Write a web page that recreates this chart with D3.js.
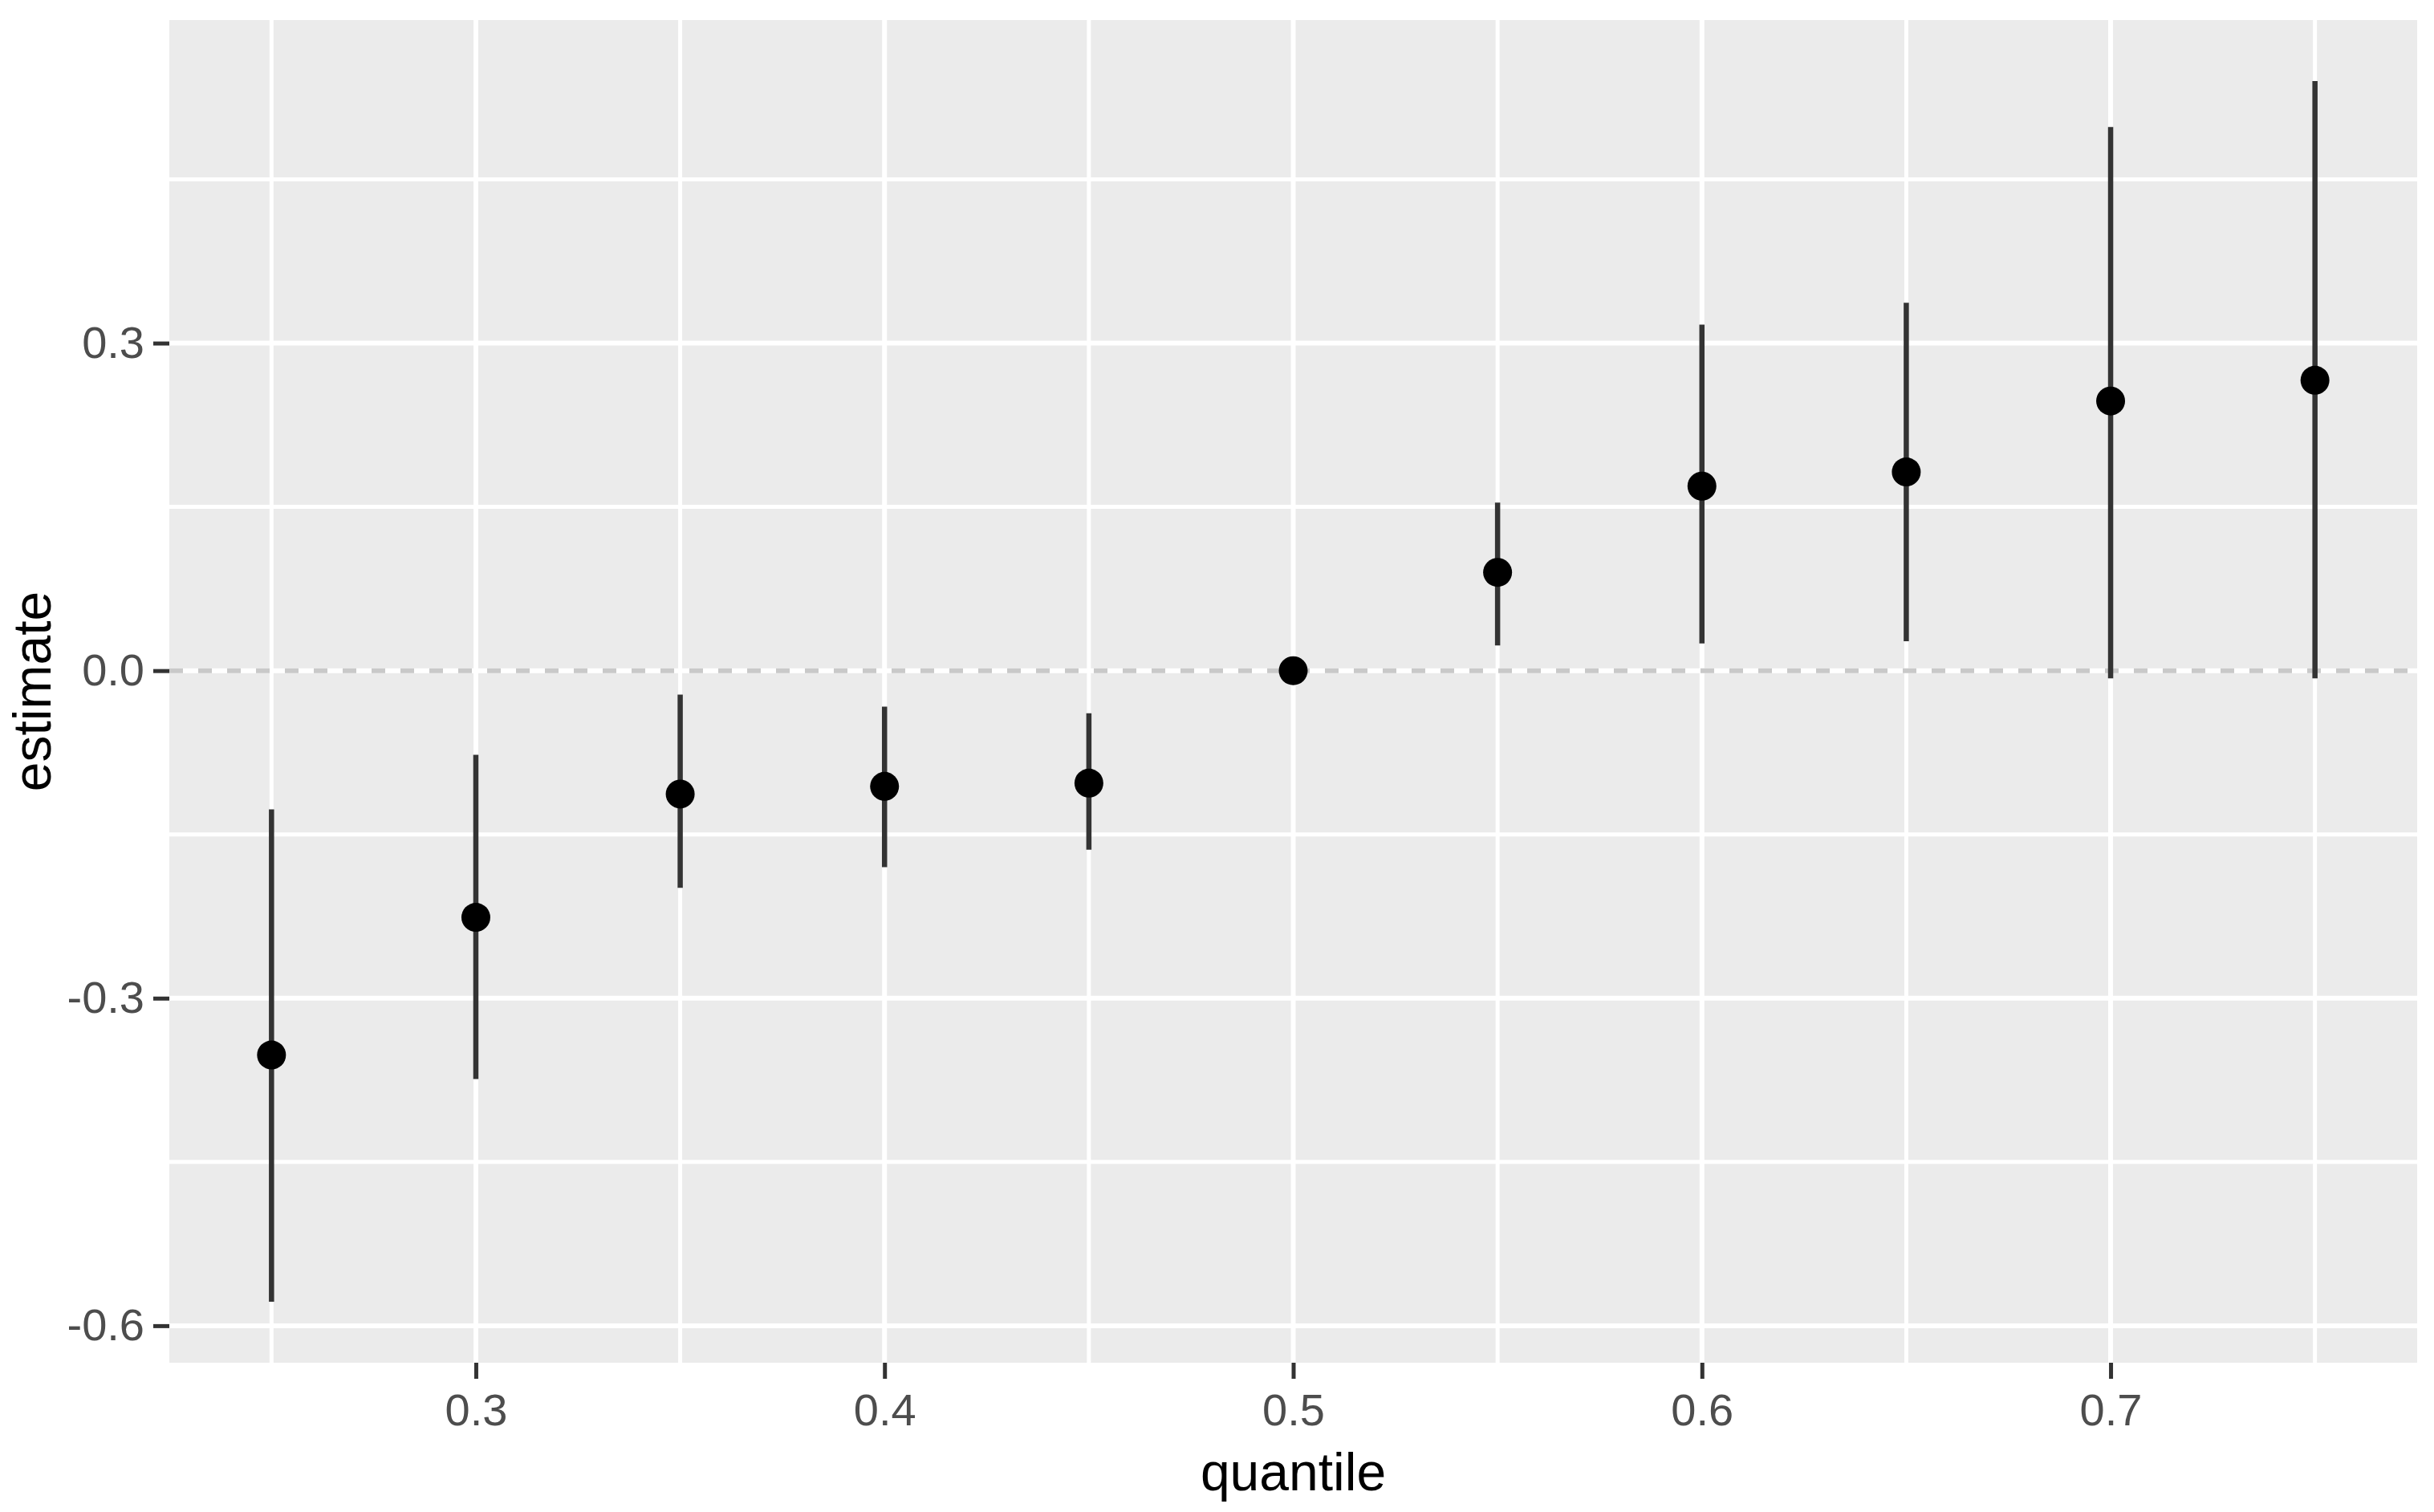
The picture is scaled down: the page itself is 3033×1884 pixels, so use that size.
<!DOCTYPE html>
<html>
<head>
<meta charset="utf-8">
<script src="https://cdn.jsdelivr.net/npm/d3@7"></script>
<style>
  html, body { margin: 0; padding: 0; background: #ffffff; }
  svg { display: block; }
</style>
</head>
<body>
<svg id="chart" width="3033" height="1884"></svg>
<script>
// ---- data ----
const quantiles = [0.25, 0.30, 0.35, 0.40, 0.45, 0.50, 0.55, 0.60, 0.65, 0.70, 0.75];
const estimates = [-0.352, -0.226, -0.113, -0.106, -0.103, 0.000, 0.090, 0.169, 0.182, 0.247, 0.266];
const lowerCI   = [-0.578, -0.374, -0.199, -0.180, -0.164, 0.000, 0.023, 0.025, 0.027, -0.007, -0.007];
const upperCI   = [-0.127, -0.077, -0.022, -0.033, -0.039, 0.000, 0.154, 0.317, 0.337, 0.498, 0.540];

const xMajorTicks = [0.3, 0.4, 0.5, 0.6, 0.7];
const xMinorTicks = [0.25, 0.35, 0.45, 0.55, 0.65, 0.75];
const yMajorTicks = [-0.6, -0.3, 0.0, 0.3];
const yMinorTicks = [-0.45, -0.15, 0.15, 0.45];

const xTitle = "quantile";
const yTitle = "estimate";

// ---- layout ----
const W = 3033, H = 1884;
const panel = { left: 211, right: 3012, top: 25, bottom: 1698 };
const FONT = "'Liberation Sans', Arial, Helvetica, sans-serif";

const rows = quantiles.map((q, i) => ({ q, est: estimates[i], lo: lowerCI[i], hi: upperCI[i] }));

// ggplot-like 5% expansion
function expand(lo, hi) { const p = (hi - lo) * 0.05; return [lo - p, hi + p]; }
const xDom = expand(d3.min(quantiles), d3.max(quantiles));
const yDom = expand(d3.min(lowerCI), d3.max(upperCI));

const x = d3.scaleLinear().domain(xDom).range([panel.left, panel.right]);
const y = d3.scaleLinear().domain(yDom).range([panel.bottom, panel.top]);

const svg = d3.select("#chart");
svg.append("rect").attr("x", 0).attr("y", 0).attr("width", W).attr("height", H).attr("fill", "#ffffff");

// panel background
svg.append("rect")
  .attr("x", panel.left).attr("y", panel.top)
  .attr("width", panel.right - panel.left).attr("height", panel.bottom - panel.top)
  .attr("fill", "#EBEBEB");

const grid = svg.append("g").attr("class", "grid");
// minor grid
grid.selectAll("line.ymin").data(yMinorTicks).join("line")
  .attr("x1", panel.left).attr("x2", panel.right)
  .attr("y1", d => y(d)).attr("y2", d => y(d))
  .attr("stroke", "#ffffff").attr("stroke-width", 5);
grid.selectAll("line.xmin").data(xMinorTicks).join("line")
  .attr("y1", panel.top).attr("y2", panel.bottom)
  .attr("x1", d => x(d)).attr("x2", d => x(d))
  .attr("stroke", "#ffffff").attr("stroke-width", 5);
// major grid
grid.selectAll("line.ymaj").data(yMajorTicks).join("line")
  .attr("x1", panel.left).attr("x2", panel.right)
  .attr("y1", d => y(d)).attr("y2", d => y(d))
  .attr("stroke", "#ffffff").attr("stroke-width", 6);
grid.selectAll("line.xmaj").data(xMajorTicks).join("line")
  .attr("y1", panel.top).attr("y2", panel.bottom)
  .attr("x1", d => x(d)).attr("x2", d => x(d))
  .attr("stroke", "#ffffff").attr("stroke-width", 6);

// dotted reference line at zero
svg.append("line")
  .attr("x1", panel.left).attr("x2", panel.right)
  .attr("y1", y(0)).attr("y2", y(0))
  .attr("stroke", "#C9C9C9").attr("stroke-width", 6)
  .attr("stroke-dasharray", "17 19");

// error bars
svg.append("g").selectAll("line").data(rows).join("line")
  .attr("x1", d => x(d.q)).attr("x2", d => x(d.q))
  .attr("y1", d => y(d.lo)).attr("y2", d => y(d.hi))
  .attr("stroke", "#333333").attr("stroke-width", 6.5);

// points
svg.append("g").selectAll("circle").data(rows).join("circle")
  .attr("cx", d => x(d.q)).attr("cy", d => y(d.est))
  .attr("r", 18).attr("fill", "#000000");

// axes
const xAxis = d3.axisBottom(x).tickValues(xMajorTicks).tickFormat(d3.format(".1f"))
  .tickSize(20).tickPadding(18);
const yAxis = d3.axisLeft(y).tickValues(yMajorTicks).tickFormat(d3.format(".1f"))
  .tickSize(20).tickPadding(11);

const gx = svg.append("g").attr("transform", `translate(0,${panel.bottom})`).call(xAxis);
const gy = svg.append("g").attr("transform", `translate(${panel.left},0)`).call(yAxis);

[gx, gy].forEach(g => {
  g.select(".domain").remove();
  g.selectAll(".tick line").attr("stroke", "#333333").attr("stroke-width", 5);
  g.selectAll(".tick text")
    .attr("fill", "#4D4D4D")
    .style("font-family", FONT)
    .style("font-size", "56px");
});
// ggplot prints -0.6 with hyphen-minus
gy.selectAll(".tick text").text(d => d3.format(".1f")(d).replace("\u2212", "-"));

// axis titles
svg.append("text")
  .attr("x", (panel.left + panel.right) / 2).attr("y", 1857)
  .attr("text-anchor", "middle")
  .attr("fill", "#000000")
  .style("font-family", FONT).style("font-size", "66px")
  .text(xTitle);

svg.append("text")
  .attr("transform", `translate(63,${(panel.top + panel.bottom) / 2}) rotate(-90)`)
  .attr("text-anchor", "middle")
  .attr("fill", "#000000")
  .style("font-family", FONT).style("font-size", "66px")
  .text(yTitle);
</script>
</body>
</html>
